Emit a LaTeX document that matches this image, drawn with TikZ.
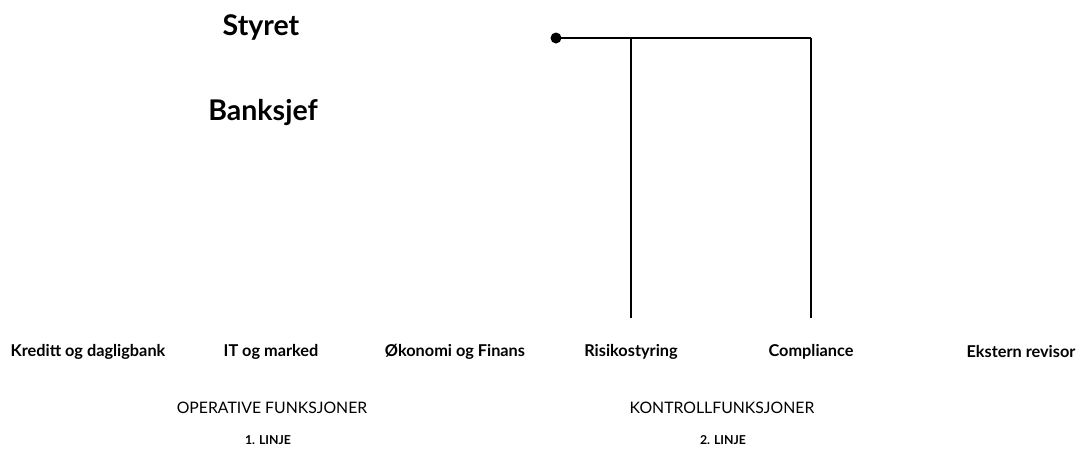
\documentclass[tikz,border=0pt]{standalone}
\usepackage{fontspec}
\setmainfont{Lato}
\begin{document}
\begin{tikzpicture}[x=1pt,y=-1pt,
  title/.style={font=\bfseries\fontsize{28.5}{32}\selectfont,inner sep=0pt},
  unit/.style={font=\bfseries\fontsize{16.3}{19}\selectfont,inner sep=0pt},
  group/.style={font=\fontsize{15.8}{18}\selectfont,inner sep=0pt},
  line/.style={font=\bfseries\fontsize{12.3}{14}\selectfont,inner sep=0pt},
  conn/.style={line width=1.3pt,black}]
\useasboundingbox (0,0) rectangle (1081,451);
\node[title] (styret) at (261,27) {Styret};
\node[title] (banksjef) at (263,112) {Banksjef};
\node[unit] (kred) at (88,352) {Kreditt og dagligbank};
\node[unit] (it) at (271,352) {IT og marked};
\node[unit] (oko) at (455,352) {Økonomi og Finans};
\node[unit] (risk) at (631,352) {Risikostyring};
\node[unit] (comp) at (811,352) {Compliance};
\node[unit] (eks) at (1021,352) {Ekstern revisor};
\node[group] (op) at (272,408) {OPERATIVE FUNKSJONER};
\node[group] (kon) at (722,408) {KONTROLLFUNKSJONER};
\node[line] (l1) at (268,440) {1. LINJE};
\node[line] (l2) at (723,440) {2. LINJE};
\coordinate (dot) at (556,38);
\coordinate (jr) at (631,38);
\coordinate (jc) at (811,38);
\coordinate (er) at (631,318);
\coordinate (ec) at (811,318);
\fill (dot) circle (5.5);
\draw[line width=1.2pt] (dot) -- (jc);
\draw[conn] (jr) -- (er);
\draw[line width=1.8pt] (jc) -- (ec);
\end{tikzpicture}
\end{document}
